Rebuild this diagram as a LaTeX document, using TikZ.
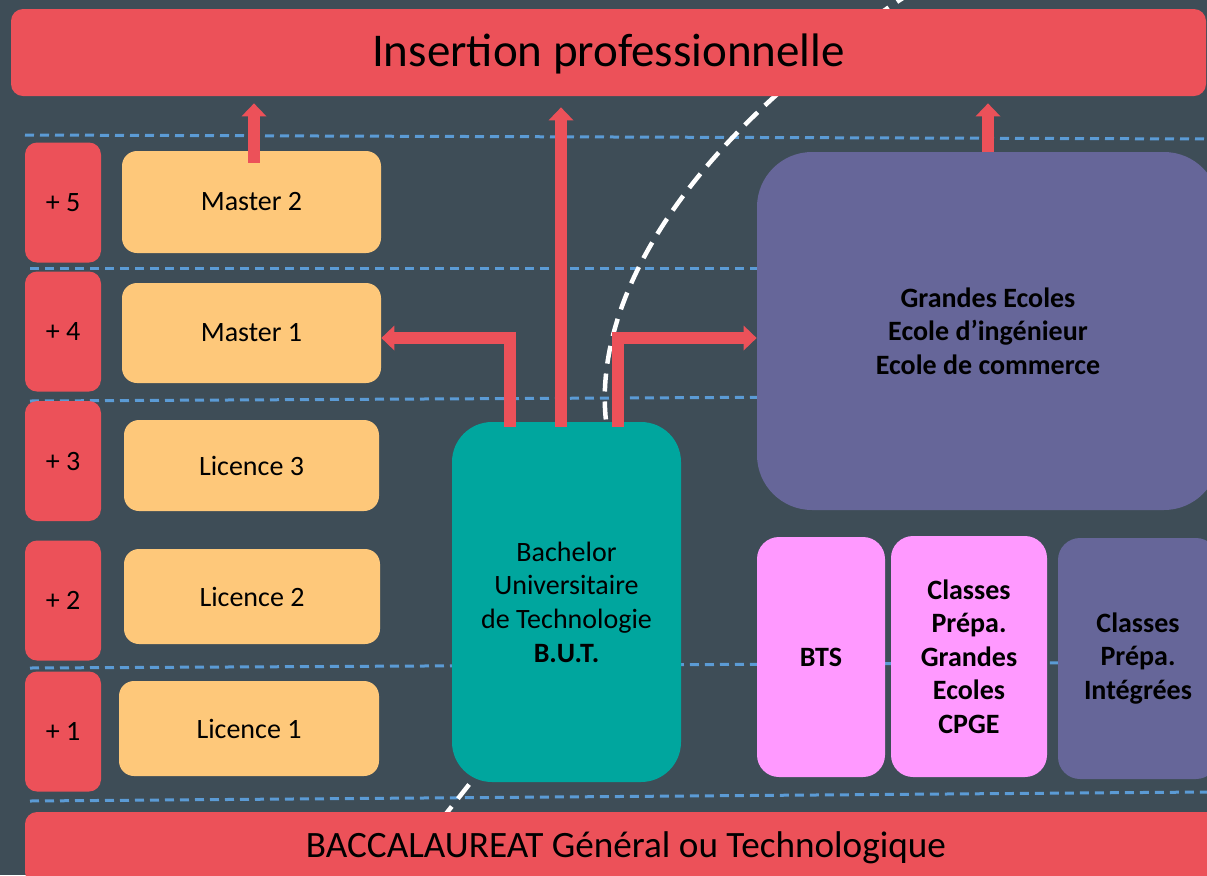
\documentclass[tikz,border=0pt]{standalone}
\usepackage{fontspec}
\setmainfont{Carlito}
\usetikzlibrary{arrows.meta,calc}

\definecolor{slate}{RGB}{62,77,87}
\definecolor{barred}{RGB}{236,81,89}
\definecolor{levelyellow}{RGB}{254,200,122}
\definecolor{butteal}{RGB}{0,166,158}
\definecolor{ecolepurple}{RGB}{102,102,153}
\definecolor{prepapink}{RGB}{255,153,255}
\definecolor{gridblue}{RGB}{91,155,213}

\begin{document}
\begin{tikzpicture}[x=0.5pt, y=-0.5pt,
        every node/.style={inner sep=0pt, align=center,
            font=\fontsize{14}{16.8}\selectfont},
        yearbox/.style={fill=barred, rounded corners=6pt,
            minimum width=38pt, minimum height=60pt},
        levelbox/.style={fill=levelyellow, rounded corners=7.5pt},
        prepabox/.style={fill=prepapink, rounded corners=11pt,
            font=\fontsize{14}{16.8}\selectfont\bfseries},
        redarrow/.style={draw=barred, line width=6pt,
            -{Triangle[width=12.5pt, length=6.5pt, line width=0pt]}},
        gridline/.style={gridblue, line width=1.5pt,
            dash pattern=on 4.5pt off 3pt},
        pathline/.style={white, line width=2.25pt,
            dash pattern=on 9pt off 5pt}]
    \useasboundingbox (0,0) rectangle (1207,875);
    \clip (0,0) rectangle (1207,875);
    \fill [slate] (0,0) rectangle (1207,875);

    % year separators
    \draw [gridline] (25,135) -- (1207,139);
    \draw [gridline] (30,268) -- (1207,268);
    \draw [gridline] (30,401) -- (1207,395);
    \draw [gridline] (30,668) -- (1207,662);
    \draw [gridline] (30,801) -- (1207,792);

    % university / grandes ecoles split
    \draw [pathline] (912,-8) .. controls (668,150) and (584,320) .. (609,440)
        .. controls (620,600) and (520,720) .. (445,815);

    % bars
    \node [fill=barred, rounded corners=6pt, minimum width=597.5pt,
        minimum height=43.5pt, text depth=2pt,
        font=\fontsize{23.5}{28}\selectfont]
        (top) at (608.5,52.5) {Insertion professionnelle};
    \node [fill=barred, rounded corners=6pt, minimum width=601pt,
        minimum height=36pt, font=\fontsize{18.6}{22}\selectfont]
        (bac) at (626,848) {BACCALAUREAT Général ou Technologique};

    % years
    \node [yearbox] (y5) at (63,202.5) {+ 5};
    \node [yearbox] (y4) at (63,331.5) {+ 4};
    \node [yearbox] (y3) at (63,461) {+ 3};
    \node [yearbox] (y2) at (63,600.5) {+ 2};
    \node [yearbox] (y1) at (63,731.5) {+ 1};

    % university track
    \node [levelbox, minimum width=129.5pt, minimum height=51pt]
        (m2) at (251.5,202) {Master 2};
    \node [levelbox, minimum width=129.5pt, minimum height=50pt]
        (m1) at (251.5,333) {Master 1};
    \node [levelbox, minimum width=127.5pt, minimum height=45.5pt]
        (l3) at (251.5,465.5) {Licence 3};
    \node [levelbox, minimum width=128pt, minimum height=47.5pt]
        (l2) at (252,596.5) {Licence 2};
    \node [levelbox, minimum width=130pt, minimum height=47.5pt]
        (l1) at (249,728.5) {Licence 1};

    \node [fill=butteal, rounded corners=20pt, minimum width=114.5pt,
        minimum height=180pt] (but) at (566.5,602)
        {Bachelor\\Universitaire\\de Technologie\\\textbf{B.U.T.}};

    % grandes ecoles track
    \node [fill=ecolepurple, rounded corners=27.5pt, minimum width=231pt,
        minimum height=179pt, font=\fontsize{14}{16.8}\selectfont\bfseries]
        (ge) at (988,331) {Grandes Ecoles\\Ecole d’ingénieur\\Ecole de commerce};
    \node [prepabox, minimum width=64pt, minimum height=120pt]
        (bts) at (821,657) {BTS};
    \node [prepabox, minimum width=78pt, minimum height=120.5pt]
        (cpge) at (969,656.5) {Classes\\Prépa.\\Grandes\\Ecoles\\CPGE};
    \node [prepabox, fill=ecolepurple, minimum width=80pt,
        minimum height=120.5pt] (cpi) at (1138,658.5)
        {Classes\\Prépa.\\Intégrées};

    % ways out
    \coordinate (a1) at ($(m2.north)+(2.5,0)$);
    \coordinate (a2) at ($(but.north)+(-5.5,0)$);
    \coordinate (a3) at ($(but.north)+(-56.5,0)$);
    \coordinate (a4) at ($(but.north)+(51.5,0)$);
    \draw [redarrow, shorten <=-6pt, shorten >=3.5pt] (a1) -- (a1 |- top.south);
    \draw [redarrow, shorten <=-2.5pt, shorten >=5.5pt] (a2) -- (a2 |- top.south);
    \draw [redarrow, shorten <=-2.5pt] (a3) |- ($(m1.east)+(0,5)$);
    \draw [redarrow, shorten <=-2.5pt] (a4) |- ($(ge.west)+(0,7)$);
    \draw [redarrow, shorten >=3.5pt] (ge.north) -- (top.south -| ge.north);
\end{tikzpicture}
\end{document}
